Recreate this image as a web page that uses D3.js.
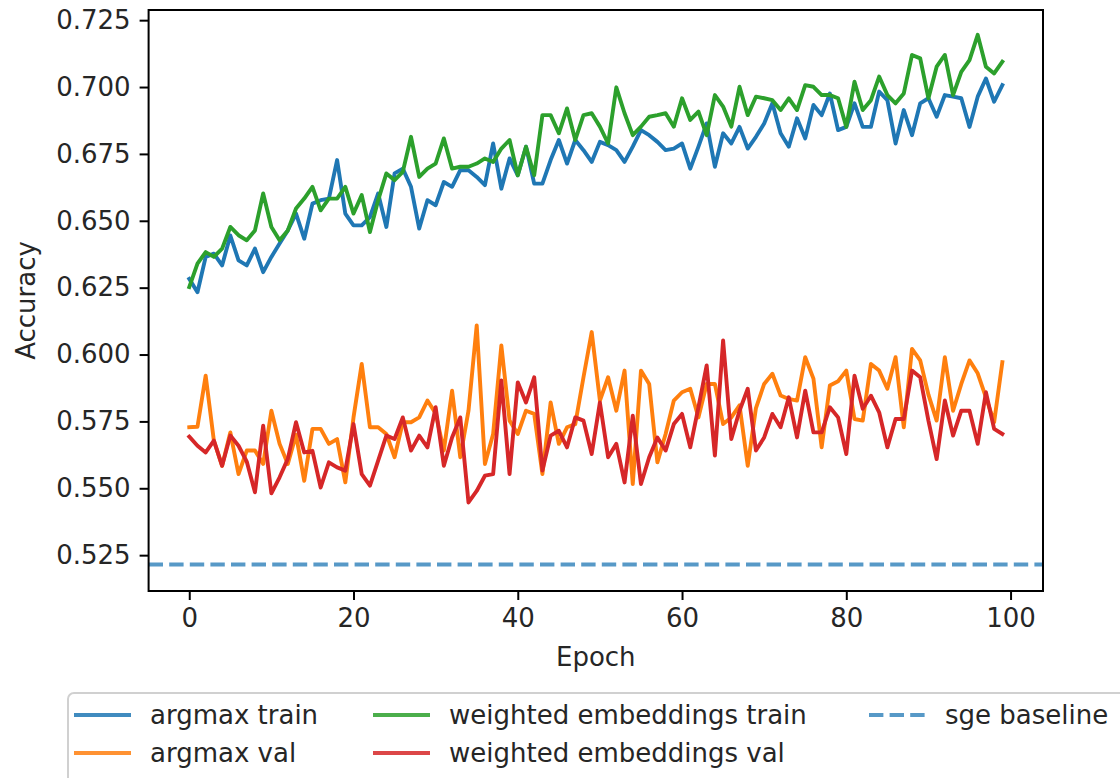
<html>
<script src='https://d3js.org/d3.v7.min.js'></script>
<style>
body {margin: 0; background: white;}
text {font-family: 'DejaVu Sans', sans-serif; fill: #262626;}
</style>
<body>
<svg width=1120 height=778></svg>
<script>

var xTicks = [0, 20, 40, 60, 80, 100];
var yTicks = [0.525, 0.550, 0.575, 0.600, 0.625, 0.650, 0.675, 0.700, 0.725];
var baseline = 0.5215;

var argmaxTrain = [0.6283, 0.6233, 0.6365, 0.6377, 0.6333, 0.6445, 0.6352, 0.6333, 0.6396, 0.6308,
  0.6365, 0.6415, 0.6464, 0.6527, 0.6433, 0.6564, 0.6577, 0.6583, 0.6727, 0.6527,
  0.6483, 0.6483, 0.6514, 0.6602, 0.6477, 0.6677, 0.6695, 0.6627, 0.6471, 0.6577,
  0.6558, 0.6645, 0.6627, 0.6689, 0.6689, 0.6664, 0.6633, 0.6789, 0.6620, 0.6733,
  0.6670, 0.6777, 0.6639, 0.6639, 0.6727, 0.6802, 0.6714, 0.6802, 0.6764, 0.6720,
  0.6795, 0.6783, 0.6764, 0.6720, 0.6777, 0.6839, 0.6820, 0.6795, 0.6764, 0.6770,
  0.6789, 0.6695, 0.6777, 0.6864, 0.6702, 0.6827, 0.6789, 0.6851, 0.6770, 0.6814,
  0.6864, 0.6939, 0.6827, 0.6777, 0.6883, 0.6808, 0.6933, 0.6895, 0.6976, 0.6839,
  0.6851, 0.6939, 0.6851, 0.6851, 0.6983, 0.6951, 0.6789, 0.6914, 0.6820, 0.6939,
  0.6958, 0.6889, 0.6970, 0.6964, 0.6958, 0.6851, 0.6964, 0.7032, 0.6945, 0.7007];

var argmaxVal = [0.5728, 0.5730, 0.5921, 0.5678, 0.5584, 0.5709, 0.5553, 0.5641, 0.5641, 0.5591,
  0.5790, 0.5666, 0.5591, 0.5700, 0.5528, 0.5722, 0.5722, 0.5666, 0.5684, 0.5522,
  0.5765, 0.5965, 0.5728, 0.5728, 0.5703, 0.5616, 0.5747, 0.5747, 0.5765, 0.5828,
  0.5780, 0.5641, 0.5865, 0.5616, 0.5790, 0.6109, 0.5591, 0.5703, 0.6034, 0.5753,
  0.5703, 0.5790, 0.5778, 0.5553, 0.5821, 0.5666, 0.5728, 0.5740, 0.5915, 0.6084,
  0.5828, 0.5915, 0.5790, 0.5940, 0.5516, 0.5940, 0.5890, 0.5597, 0.5703, 0.5828,
  0.5859, 0.5872, 0.5765, 0.5890, 0.5890, 0.5740, 0.5765, 0.5810, 0.5584, 0.5800,
  0.5890, 0.5928, 0.5847, 0.5834, 0.5828, 0.5990, 0.5910, 0.5653, 0.5884, 0.5900,
  0.5940, 0.5759, 0.5753, 0.5965, 0.5940, 0.5872, 0.5990, 0.5728, 0.6021, 0.5978,
  0.5850, 0.5753, 0.5990, 0.5790, 0.5890, 0.5978, 0.5930, 0.5840, 0.5747, 0.5971];

var weightedTrain = [0.6252, 0.6340, 0.6383, 0.6365, 0.6396, 0.6477, 0.6446, 0.6427, 0.6464, 0.6602,
  0.6477, 0.6427, 0.6464, 0.6546, 0.6583, 0.6627, 0.6539, 0.6583, 0.6583, 0.6627,
  0.6527, 0.6596, 0.6458, 0.6577, 0.6677, 0.6652, 0.6683, 0.6814, 0.6664, 0.6695,
  0.6714, 0.6808, 0.6695, 0.6702, 0.6702, 0.6714, 0.6733, 0.6720, 0.6770, 0.6802,
  0.6670, 0.6777, 0.6670, 0.6895, 0.6895, 0.6827, 0.6920, 0.6802, 0.6895, 0.6902,
  0.6852, 0.6789, 0.6999, 0.6902, 0.6820, 0.6852, 0.6889, 0.6895, 0.6902, 0.6852,
  0.6958, 0.6877, 0.6908, 0.6820, 0.6970, 0.6927, 0.6852, 0.7001, 0.6895, 0.6964,
  0.6958, 0.6951, 0.6914, 0.6958, 0.6914, 0.7007, 0.7001, 0.6970, 0.6970, 0.6958,
  0.6851, 0.7020, 0.6914, 0.6951, 0.7039, 0.6970, 0.6939, 0.6976, 0.7120, 0.7107,
  0.6958, 0.7076, 0.7120, 0.6970, 0.7057, 0.7101, 0.7195, 0.7076, 0.7051, 0.7095];

var weightedVal = [0.5693, 0.5659, 0.5634, 0.5678, 0.5584, 0.5697, 0.5659, 0.5600, 0.5485, 0.5734,
  0.5481, 0.5541, 0.5610, 0.5747, 0.5634, 0.5640, 0.5503, 0.5597, 0.5578, 0.5566,
  0.5740, 0.5553, 0.5510, 0.5603, 0.5697, 0.5684, 0.5765, 0.5641, 0.5697, 0.5653,
  0.5803, 0.5584, 0.5690, 0.5765, 0.5447, 0.5490, 0.5547, 0.5553, 0.5903, 0.5553,
  0.5896, 0.5821, 0.5915, 0.5566, 0.5697, 0.5715, 0.5653, 0.5765, 0.5753, 0.5628,
  0.5821, 0.5616, 0.5666, 0.5522, 0.5771, 0.5516, 0.5616, 0.5690, 0.5641, 0.5740,
  0.5778, 0.5653, 0.5803, 0.5959, 0.5622, 0.6053, 0.5684, 0.5790, 0.5872, 0.5641,
  0.5690, 0.5778, 0.5728, 0.5840, 0.5690, 0.5865, 0.5709, 0.5709, 0.5803, 0.5765,
  0.5628, 0.5921, 0.5797, 0.5846, 0.5784, 0.5653, 0.5759, 0.5759, 0.5940, 0.5915,
  0.5753, 0.5609, 0.5828, 0.5697, 0.5790, 0.5790, 0.5666, 0.5859, 0.5722, 0.5703];

var seriesNames = ["argmax train", "argmax val", "weighted embeddings train", "weighted embeddings val", "sge baseline"];
var seriesColors = ["#1f77b4", "#ff7f0e", "#2ca02c", "#d62728", "#1f77b4"];

var plotLeft = 148.6, plotRight = 1043, plotTop = 10, plotBottom = 591;

var x = d3.scaleLinear().domain([-4.95, 103.95]).range([plotLeft, plotRight]);
var y = d3.scaleLinear().domain([0.5116, 0.7288]).range([plotBottom, plotTop]);

var svg = d3.select("svg");

var line = d3.line()
  .x(function(d, i) {return x(i);})
  .y(function(d) {return y(d);});

//draw lines in matplotlib order
var allSeries = [argmaxTrain, argmaxVal, weightedTrain, weightedVal];
allSeries.forEach(function(s, k) {
  svg.append("path")
    .datum(s)
    .attr("d", line)
    .attr("fill", "none")
    .attr("stroke", seriesColors[k])
    .attr("stroke-width", 3.9)
    .attr("stroke-linejoin", "round")
    .attr("stroke-linecap", "square");
});

//baseline
svg.append("line")
  .attr("x1", plotLeft).attr("x2", plotRight)
  .attr("y1", y(baseline)).attr("y2", y(baseline))
  .attr("stroke", seriesColors[4])
  .attr("stroke-opacity", 0.75)
  .attr("stroke-width", 3.9)
  .attr("stroke-dasharray", "14.4,6.2");

//axes
var xAxis = svg.append("g")
  .attr("transform", "translate(0," + plotBottom + ")")
  .call(d3.axisBottom(x).tickValues(xTicks).tickSize(9).tickPadding(9));
var yAxis = svg.append("g")
  .attr("transform", "translate(" + plotLeft + ",0)")
  .call(d3.axisLeft(y).tickValues(yTicks).tickSize(9).tickPadding(9).tickFormat(d3.format(".3f")));

[xAxis, yAxis].forEach(function(a) {
  a.select(".domain").remove();
  a.selectAll(".tick line").attr("stroke", "#000").attr("stroke-width", 2);
  a.selectAll(".tick text").style("font-size", "26px").style("font-family", "'DejaVu Sans', sans-serif").attr("fill", "#262626");
});

//frame
svg.append("rect")
  .attr("x", plotLeft).attr("y", plotTop)
  .attr("width", plotRight - plotLeft).attr("height", plotBottom - plotTop)
  .attr("fill", "none").attr("stroke", "#000").attr("stroke-width", 2);

//axis labels
svg.append("text")
  .attr("x", (plotLeft + plotRight) / 2)
  .attr("y", 666)
  .attr("text-anchor", "middle")
  .style("font-size", "26px")
  .text("Epoch");

svg.append("text")
  .attr("transform", "translate(35," + ((plotTop + plotBottom) / 2) + ") rotate(-90)")
  .attr("text-anchor", "middle")
  .style("font-size", "26px")
  .text("Accuracy");

//legend
var legend = svg.append("g");
legend.append("rect")
  .attr("x", 68).attr("y", 693)
  .attr("width", 1100).attr("height", 140)
  .attr("rx", 6)
  .attr("fill", "white").attr("fill-opacity", 0.8)
  .attr("stroke", "#d0d0d0").attr("stroke-width", 2);

var legendCols = [74, 74, 373, 373, 869];
var legendRows = [715, 753, 715, 753, 715];
seriesNames.forEach(function(name, k) {
  legend.append("line")
    .attr("x1", legendCols[k]).attr("x2", legendCols[k] + 57)
    .attr("y1", legendRows[k]).attr("y2", legendRows[k])
    .attr("stroke", seriesColors[k])
    .attr("stroke-opacity", k == 4 ? 0.75 : 0.85)
    .attr("stroke-width", 3.9)
    .attr("stroke-dasharray", k == 4 ? "14.4,6.2" : null);
  legend.append("text")
    .attr("x", legendCols[k] + 76)
    .attr("y", legendRows[k])
    .attr("dy", "0.35em")
    .style("font-size", "26px")
    .text(name);
});

</script>
</body>
</html>
